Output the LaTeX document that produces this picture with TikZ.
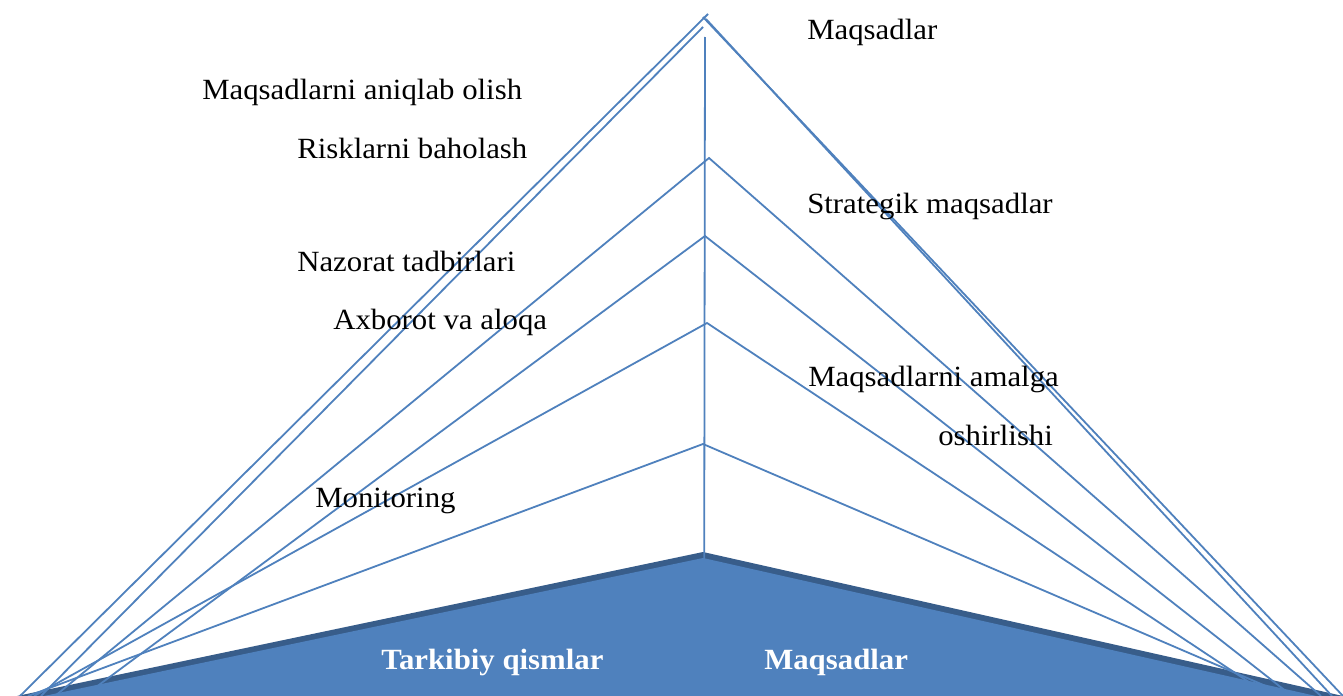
\documentclass[tikz,border=0pt]{standalone}
\usepackage{fontspec}
\setmainfont{Liberation Serif}[FakeStretch=1.05]
\definecolor{lineblue}{HTML}{4F81BD}
\definecolor{baseblue}{HTML}{4F81BD}
\definecolor{edgeblue}{HTML}{385D8A}
\tikzset{
  ln/.style={draw=lineblue, line width=1.35pt},
  lbl/.style={anchor=base west, inner sep=0pt, font=\fontsize{22}{26}\selectfont},
  baselbl/.style={anchor=base west, inner sep=0pt, text=white, font=\fontsize{22}{26}\selectfont\bfseries}
}
\begin{document}
\begin{tikzpicture}[x=0.75pt,y=-0.75pt]
\fill[white] (0,0) rectangle (1343,696);
\useasboundingbox (0,0) rectangle (1343,696);
\coordinate (bl) at (17,696);
\coordinate (bt) at (703,552);
\coordinate (br) at (1343,696);
\coordinate (bl2) at (44,696);
\coordinate (bt2) at (703,558);
\coordinate (br2) at (1316,696);
\fill[edgeblue] (bl) -- (bt) -- (br) -- cycle;
\fill[baseblue] (bl2) -- (bt2) -- (br2) -- cycle;
\coordinate (a0) at (708,14);
\coordinate (a0r) at (703,17);
\coordinate (a0s) at (706,19);
\coordinate (a1) at (703,27);
\coordinate (vt) at (705,37);
\coordinate (vb) at (704,696);
\coordinate (c1) at (709,158);
\coordinate (c2) at (705,236);
\coordinate (c3) at (707,323);
\coordinate (c4) at (703,444);
\coordinate (l0) at (20,696);
\coordinate (l1) at (41,696);
\coordinate (l2) at (55,696);
\coordinate (l3) at (84,696);
\coordinate (l4) at (34,696);
\coordinate (l5) at (28,696);
\coordinate (r0) at (1343,696);
\coordinate (r1) at (1332,696);
\coordinate (r2) at (1321,696);
\coordinate (r3) at (1292,696);
\coordinate (r4) at (1270,696);
\coordinate (r5) at (1289,696);
\draw[ln] (a0) -- (l0);
\draw[ln] (a1) -- (l1);
\draw[ln] (a0r) -- (r0);
\draw[ln] (a0s) -- (r1);
\draw[ln] (vt) -- (vb);
\draw[ln] (l2) -- (c1) -- (r2);
\draw[ln] (l3) -- (c2) -- (r3);
\draw[ln] (l4) -- (c3) -- (r4);
\draw[ln] (l5) -- (c4) -- (r5);
\node[lbl] (goals) at (807,39) {Maqsadlar};
\node[lbl] (define) at (202,99) {Maqsadlarni aniqlab olish};
\node[lbl] (risk) at (297,158) {Risklarni baholash};
\node[lbl] (strat) at (807,213) {Strategik maqsadlar};
\node[lbl] (control) at (297,271) {Nazorat tadbirlari};
\node[lbl] (info) at (333,329) {Axborot va aloqa};
\node[lbl] (reach) at (808,386) {Maqsadlarni amalga};
\node[lbl] (reach2) at (938,445) {oshirlishi};
\node[lbl] (monit) at (315,507) {Monitoring};
\node[baselbl] (parts) at (381,669) {Tarkibiy qismlar};
\node[baselbl] (goals2) at (764,669) {Maqsadlar};
\end{tikzpicture}
\end{document}
